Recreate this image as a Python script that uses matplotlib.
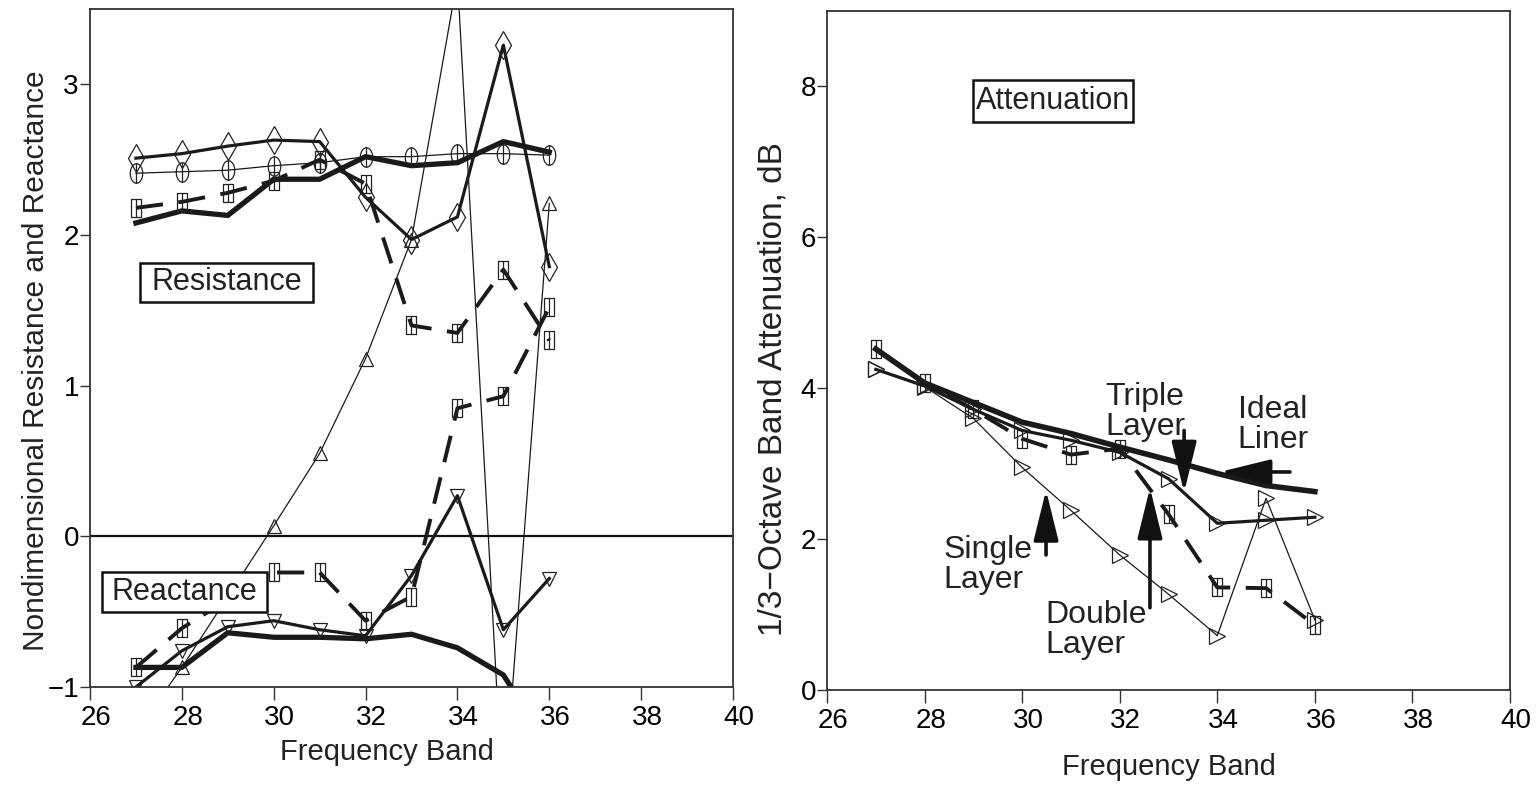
import matplotlib
matplotlib.use("Agg")
import matplotlib.pyplot as plt
from matplotlib.path import Path
from matplotlib.patches import Rectangle
from matplotlib.transforms import ScaledTranslation
import numpy as np

plt.rcParams['font.family'] = ['Liberation Sans', 'DejaVu Sans']

# ---------------- data ----------------
bands = [27, 28, 29, 30, 31, 32, 33, 34, 35, 36]

# left panel: resistance
res_thick = [2.08, 2.16, 2.13, 2.37, 2.37, 2.52, 2.46, 2.48, 2.62, 2.55]
res_diamond = [2.51, 2.54, 2.59, 2.63, 2.62, 2.25, 1.97, 2.12, 3.26, 1.79]
res_circle = [2.41, 2.42, 2.43, 2.46, 2.48, 2.52, 2.52, 2.54, 2.54, 2.53]
res_dashed = [2.18, 2.22, 2.28, 2.36, 2.50, 2.34, 1.40, 1.35, 1.77, 1.30]
# left panel: reactance
reac_thick = [-0.87, -0.87, -0.64, -0.67, -0.67, -0.68, -0.65, -0.74, -0.92, -1.40]
reac_medium = [-1.00, -0.76, -0.60, -0.56, -0.62, -0.66, -0.26, 0.27, -0.62, -0.28]
reac_thin = [-1.30, -0.87, -0.40, 0.07, 0.55, 1.18, 1.97, 3.70, -1.80, 2.21]
reac_dashed = [-0.87, -0.61, -0.42, -0.24, -0.24, -0.56, -0.40, 0.85, 0.93, 1.52]

# right panel: attenuation
att_ideal = [4.52, 4.07, 3.81, 3.55, 3.40, 3.22, 3.05, 2.87, 2.71, 2.63]
att_triple = [4.25, 4.03, 3.72, 3.44, 3.31, 3.15, 2.80, 2.21, 2.25, 2.29]
att_double = [4.52, 4.07, 3.72, 3.33, 3.12, 3.20, 2.33, 1.36, 1.35, 0.86]
att_single = [4.25, 4.02, 3.60, 2.95, 2.38, 1.79, 1.27, 0.72, 2.54, 0.93]

xticks = [26, 28, 30, 32, 34, 36, 38, 40]
left_yticks = [-1, 0, 1, 2, 3]
right_yticks = [0, 2, 4, 6, 8]

# ---------------- custom markers ----------------
t = np.linspace(0, 2 * np.pi, 40)
ell = list(zip(0.32 * np.cos(t), 0.5 * np.sin(t)))
ell_codes = [Path.MOVETO] + [Path.LINETO] * (len(ell) - 2) + [Path.CLOSEPOLY]
ellipse_marker = Path(ell + [(0, -0.5), (0, 0.5)], ell_codes + [Path.MOVETO, Path.LINETO])

sq = [(-0.3, -0.5), (0.3, -0.5), (0.3, 0.5), (-0.3, 0.5), (-0.3, -0.5)]
sq_codes = [Path.MOVETO, Path.LINETO, Path.LINETO, Path.LINETO, Path.CLOSEPOLY]
square_marker = Path(sq + [(0, -0.5), (0, 0.5)], sq_codes + [Path.MOVETO, Path.LINETO])

mk = dict(fillstyle='none', markeredgecolor='#222222', markeredgewidth=0.9)

fig = plt.figure(figsize=(15.39, 7.87), dpi=100)
W, H = 1539, 787

def axes_px(x0, y0, x1, y1):
    return fig.add_axes([x0 / W, 1 - y1 / H, (x1 - x0) / W, (y1 - y0) / H])

axL = axes_px(90, 9, 733, 687)
axR = axes_px(827, 11, 1510, 690)

shift = ScaledTranslation(6 / 100, 0, fig.dpi_scale_trans)
for ax in (axL, axR):
    for s in ax.spines.values():
        s.set_color('#333333')
        s.set_linewidth(1.3)
    ax.tick_params(direction='out', width=1.0, color='#333333',
                   labelsize=20, top=False, right=False)
    ax.tick_params(axis='x', length=9, pad=4)
    ax.tick_params(axis='y', length=7, pad=1)
    ax.set_xlim(26, 40)
    ax.set_xticks(xticks)
    ax.set_xticklabels([str(v) for v in xticks])
    for lab in ax.get_xticklabels():
        lab.set_transform(lab.get_transform() + shift)

# ---------------- left panel ----------------
axL.set_ylim(-1, 3.5)
axL.set_yticks(left_yticks)
axL.set_yticklabels(['\u22121', '0', '1', '2', '3'])
axL.axhline(0, color='#111111', lw=1.6, zorder=1)

c = '#1a1a1a'
axL.plot(bands, res_circle, color=c, lw=0.9, marker=ellipse_marker, ms=14, **mk)
axL.plot(bands, res_diamond, color=c, lw=2.3, marker='d', ms=14, **mk)
axL.plot(bands, res_thick, color=c, lw=3.8)
axL.plot(bands, res_dashed, color=c, lw=2.8, dashes=(7, 4), marker=square_marker, ms=13, **mk)

axL.plot(bands, reac_thin, color=c, lw=0.9, marker='^', ms=10, **mk)
axL.plot(bands, reac_thick, color=c, lw=3.8)
axL.plot(bands, reac_medium, color=c, lw=2.3, marker='v', ms=10, **mk)
axL.plot(bands, reac_dashed, color=c, lw=2.8, dashes=(7, 4), marker=square_marker, ms=13, **mk)

axL.set_xlabel('Frequency Band', fontsize=21, color='#222222')
axL.xaxis.set_label_coords((387 - 90) / 643, (687 - 738) / 678)
axL.set_ylabel('Nondimensional Resistance and Reactance', fontsize=21.5, color='#222222')
axL.yaxis.set_label_coords((50 - 90) / 643, 0.481)

def box_label(ax, x0, y0, x1, y1, ax_w, ax_h, ox, oy, text):
    fx0 = (x0 - ox) / ax_w
    fx1 = (x1 - ox) / ax_w
    fy0 = (oy - y1) / ax_h
    fy1 = (oy - y0) / ax_h
    ax.add_patch(Rectangle((fx0, fy0), fx1 - fx0, fy1 - fy0, transform=ax.transAxes,
                           fc='white', ec='#111111', lw=1.8, zorder=5))
    ax.text((fx0 + fx1) / 2, (fy0 + fy1) / 2, text, transform=ax.transAxes,
            ha='center', va='center', fontsize=22, color='#222222', zorder=6)

box_label(axL, 140, 263, 313, 302, 643, 678, 90, 687, 'Resistance')
box_label(axL, 102, 572, 267, 612, 643, 678, 90, 687, 'Reactance')

# ---------------- right panel ----------------
axR.set_ylim(0, 9)
axR.set_yticks(right_yticks)

axR.plot(bands, att_single, color=c, lw=0.9, marker='>', ms=11, **mk)
axR.plot(bands, att_double, color=c, lw=2.8, dashes=(7, 4), marker=square_marker, ms=13, **mk)
axR.plot(bands, att_triple, color=c, lw=2.3, marker='>', ms=11, **mk)
axR.plot(bands, att_ideal, color=c, lw=4.0)

axR.set_xlabel('Frequency Band', fontsize=21, color='#222222')
axR.xaxis.set_label_coords(0.5, (690 - 753) / 679)
axR.set_ylabel('1/3\u2212Octave Band Attenuation, dB', fontsize=24, color='#222222')
axR.yaxis.set_label_coords((788 - 827) / 683, 0.443)

box_label(axR, 973, 80, 1133, 122, 683, 679, 827, 690, 'Attenuation')

arrow = dict(arrowstyle='-|>,head_length=1.3,head_width=0.32', color='#111111',
             lw=2.6, mutation_scale=24, shrinkA=0, shrinkB=0)

def arr(x0, y0, x1, y1):
    axR.annotate('', xy=(x1, y1), xytext=(x0, y0), arrowprops=arrow, zorder=7)

arr(33.32, 3.44, 33.32, 2.62)   # Triple
arr(35.49, 2.89, 34.05, 2.89)   # Ideal
arr(30.49, 1.79, 30.49, 2.65)   # Single
arr(32.62, 1.09, 32.62, 2.68)   # Double

tk = dict(fontsize=23, color='#222222', ha='left', va='center', linespacing=1.0)
axR.text(31.70, 3.68, 'Triple\nLayer', **tk)
axR.text(34.42, 3.51, 'Ideal\nLiner', **tk)
axR.text(28.38, 1.66, 'Single\nLayer', **tk)
axR.text(30.47, 0.79, 'Double\nLayer', **tk)

fig.savefig('out.png', dpi=100)
